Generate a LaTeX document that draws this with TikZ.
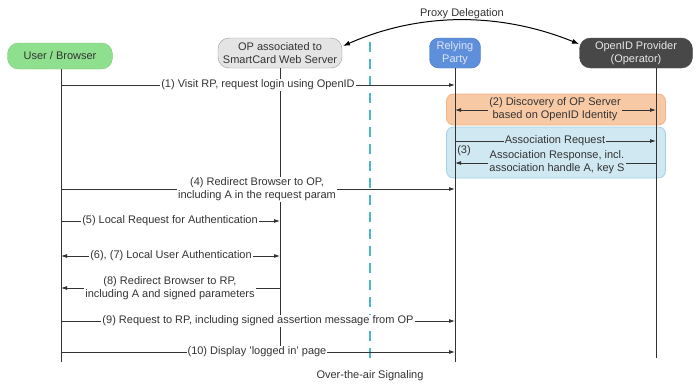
\documentclass[tikz,border=0pt]{standalone}
\usepackage{fontspec}
\setmainfont{Liberation Sans}
\usetikzlibrary{arrows.meta}
\definecolor{usergreen}{HTML}{8EE08E}
\definecolor{usergreenb}{HTML}{7CCB7C}
\definecolor{opfill}{HTML}{E4E4E4}
\definecolor{opdraw}{HTML}{9A9A9A}
\definecolor{rpfill}{HTML}{5E8FDA}
\definecolor{rpdraw}{HTML}{4A78C0}
\definecolor{rptext}{HTML}{DDE6F8}
\definecolor{oidfill}{HTML}{484848}
\definecolor{oidtext}{HTML}{E8E8E8}
\definecolor{orfill}{HTML}{F8C9A5}
\definecolor{ordraw}{HTML}{F2B487}
\definecolor{blfill}{HTML}{CFE8F2}
\definecolor{bldraw}{HTML}{A3CFE2}
\definecolor{airline}{HTML}{45B9C9}
\definecolor{ink}{HTML}{333333}
\tikzset{
  actor/.style={rounded corners=11pt, align=center, inner sep=1pt, text=ink},
  life/.style={draw=ink, line width=0.8pt},
  msg/.style={draw=ink, line width=0.8pt, -{Latex[length=6pt,width=4pt]}},
  msgboth/.style={draw=ink, line width=0.8pt, {Latex[length=6pt,width=4pt]}-{Latex[length=6pt,width=4pt]}},
  lbl/.style={fill=white, inner sep=1pt, align=center, text=ink, font=\fontsize{11}{13}\selectfont},
  phase/.style={rounded corners=7pt, line width=0.8pt}
}
\begin{document}
\begin{tikzpicture}[x=1pt,y=-1pt, font=\fontsize{11}{13}\selectfont]
\useasboundingbox[fill=white] (0,0) rectangle (696,383);

% actors
\node[actor, fill=usergreen, draw=usergreenb, minimum width=105, minimum height=26] (user) at (60,56) {User / Browser};
\node[actor, fill=opfill, draw=opdraw, minimum width=124, minimum height=30] (opsc) at (280,53) {OP associated to\\SmartCard Web Server};
\node[actor, fill=rpfill, draw=rpdraw, text=rptext, minimum width=51, minimum height=30, rounded corners=9pt] (rp) at (455,53) {Relying\\Party};
\node[actor, fill=oidfill, draw=oidfill, text=oidtext, minimum width=113, minimum height=30] (oid) at (636,53) {OpenID Provider\\(Operator)};

% lifeline end coordinates
\coordinate (userT) at (61,69);
\coordinate (userB) at (61,362);
\coordinate (opT) at (280,68);
\coordinate (opB) at (280,358);
\coordinate (rpT) at (455,68);
\coordinate (rpB) at (455,362);
\coordinate (oidT) at (656,68);
\coordinate (oidB) at (656,358);

% phase boxes
\node[phase, fill=orfill, draw=ordraw, minimum width=219, minimum height=31] (disc) at (556,109.5) {};
\node[phase, fill=blfill, draw=bldraw, minimum width=219, minimum height=51] (assoc) at (556,152.5) {};

% over-the-air line
\coordinate (airT) at (370,42);
\coordinate (airB) at (370,362);
\draw[airline, line width=2.6pt, dash pattern=on 10pt off 7pt] (airT) -- (airB);
\node[text=ink] (air) at (370,376) {Over-the-air Signaling};

% lifelines
\draw[life] (userT) -- (userB);
\draw[life] (opT) -- (opB);
\draw[life] (rpT) -- (rpB);
\draw[life] (oidT) -- (oidB);

% proxy delegation
\coordinate (pdA) at (343,46);
\coordinate (pdB) at (579,44);
\draw[draw=black, line width=1pt, {Latex[length=7pt,width=5pt]}-{Latex[length=7pt,width=5pt]}] (pdA) .. controls (420,12) and (500,12) .. (pdB);
\node[text=ink] (pd) at (462,14) {Proxy Delegation};

% messages
\coordinate (m1a) at (61,85);   \coordinate (m1b) at (455,85);
\draw[msg] (m1a) -- (m1b);
\node[lbl] (l1) at (258,85) {(1) Visit RP, request login using OpenID};

\coordinate (m2a) at (455,110); \coordinate (m2b) at (656,110);
\draw[msgboth] (m2a) -- (m2b);
\node[lbl, fill=orfill] (l2) at (555,109) {(2) Discovery of OP Server\\based on OpenID Identity};

\coordinate (m3a) at (455,141); \coordinate (m3b) at (656,141);
\draw[msg] (m3a) -- (m3b);
\node[lbl, fill=blfill] (l3a) at (555,141) {Association Request};
\coordinate (m3c) at (656,163); \coordinate (m3d) at (455,163);
\draw[msg] (m3c) -- (m3d);
\node[lbl, fill=blfill] (l3b) at (557,162.5) {Association Response, incl.\\association handle A, key S};
\node[text=ink, inner sep=1pt] (l3n) at (464,151) {(3)};

\coordinate (m4a) at (61,189); \coordinate (m4b) at (455,189);
\draw[msg] (m4a) -- (m4b);
\node[lbl] (l4) at (257,189.5) {(4) Redirect Browser to OP,\\including A in the request param};

\coordinate (m5a) at (61,221); \coordinate (m5b) at (280,221);
\draw[msg] (m5a) -- (m5b);
\node[lbl] (l5) at (170,221) {(5) Local Request for Authentication};

\coordinate (m6a) at (61,256); \coordinate (m6b) at (280,256);
\draw[msgboth] (m6a) -- (m6b);
\node[lbl] (l6) at (171,256) {(6), (7) Local User Authentication};

\coordinate (m8a) at (280,288); \coordinate (m8b) at (61,288);
\draw[msg] (m8a) -- (m8b);
\node[lbl] (l8) at (170,288) {(8) Redirect Browser to RP,\\including A and signed parameters};

\coordinate (m9a) at (61,321); \coordinate (m9b) at (455,321);
\draw[msg] (m9a) -- (m9b);
\node[lbl] (l9) at (258,321) {(9) Request to RP, including signed assertion message from OP};

\coordinate (m10a) at (61,352); \coordinate (m10b) at (455,352);
\draw[msg] (m10a) -- (m10b);
\node[lbl] (l10) at (257,352) {(10) Display 'logged in' page};
\end{tikzpicture}
\end{document}
